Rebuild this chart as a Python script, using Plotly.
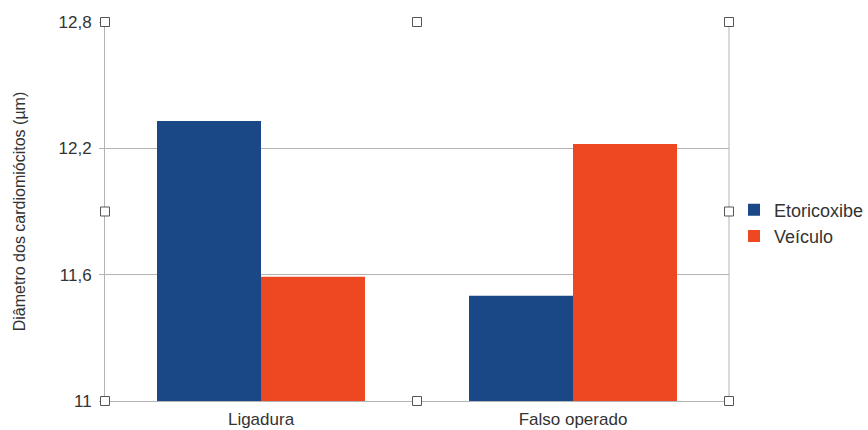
import plotly.graph_objects as go

# Mean cardiomyocyte diameter (µm) per group and treatment
categories = ["Ligadura", "Falso operado"]
etoricoxibe = [12.33, 11.50]
veiculo = [11.59, 12.22]
tick_values = [11, 11.6, 12.2, 12.8]
tick_labels = ["11", "11,6", "12,2", "12,8"]

BLUE = "#1a4785"
ORANGE = "#ee4823"
GRID = "#b3b3b3"
TEXT = "#333333"
FONT = "Liberation Sans"

fig = go.Figure()
fig.add_trace(go.Bar(name="Etoricoxibe", x=categories, y=etoricoxibe,
                     base=0, marker=dict(color=BLUE, line=dict(width=0))))
fig.add_trace(go.Bar(name="Veículo", x=categories, y=veiculo,
                     base=0, marker=dict(color=ORANGE, line=dict(width=0))))

# Selection handles around the plot frame
handles = [(0, 0), (0.5, 0), (1, 0), (0, 0.5), (1, 0.5), (0, 1), (0.5, 1), (1, 1)]
shapes = [dict(type="line", xref="paper", yref="paper", x0=1, x1=1, y0=0, y1=1,
               line=dict(color=GRID, width=1), layer="below")]
for hx, hy in handles:
    shapes.append(dict(type="rect", xref="paper", yref="paper",
                       xsizemode="pixel", ysizemode="pixel",
                       xanchor=hx, yanchor=hy,
                       x0=-4.5, x1=4.5, y0=-4.5, y1=4.5,
                       layer="above",
                       line=dict(color="#555555", width=1),
                       fillcolor="white"))

fig.update_layout(
    width=868, height=430,
    margin=dict(l=105, r=139, t=22, b=29, autoexpand=False),
    paper_bgcolor="white", plot_bgcolor="white",
    barmode="group", bargap=1/3, bargroupgap=0,
    font=dict(family=FONT, color=TEXT, size=17),
    showlegend=True,
    legend=dict(xref="container", yref="container",
                x=734 / 868, y=1 - 223 / 430, xanchor="left", yanchor="middle",
                font=dict(size=18, color=TEXT, family=FONT),
                itemwidth=30, tracegroupgap=0, bgcolor="rgba(0,0,0,0)"),
    xaxis=dict(showgrid=False, showline=True, linecolor=GRID, linewidth=1,
               ticks="", automargin=False, ticklabelstandoff=3,
               tickfont=dict(size=17, color=TEXT)),
    yaxis=dict(range=[11, 12.8], tickvals=tick_values, ticktext=tick_labels,
               showgrid=True, gridcolor=GRID, gridwidth=1,
               showline=True, linecolor=GRID, linewidth=1,
               ticks="outside", ticklen=5, tickcolor=GRID,
               ticklabelstandoff=4, automargin=False,
               zeroline=False, tickfont=dict(size=17, color=TEXT),
               title=dict(text="Diâmetro dos cardiomiócitos (µm)",
                          font=dict(size=16, color=TEXT), standoff=28)),
    shapes=shapes,
)

fig.write_html("out.html")
